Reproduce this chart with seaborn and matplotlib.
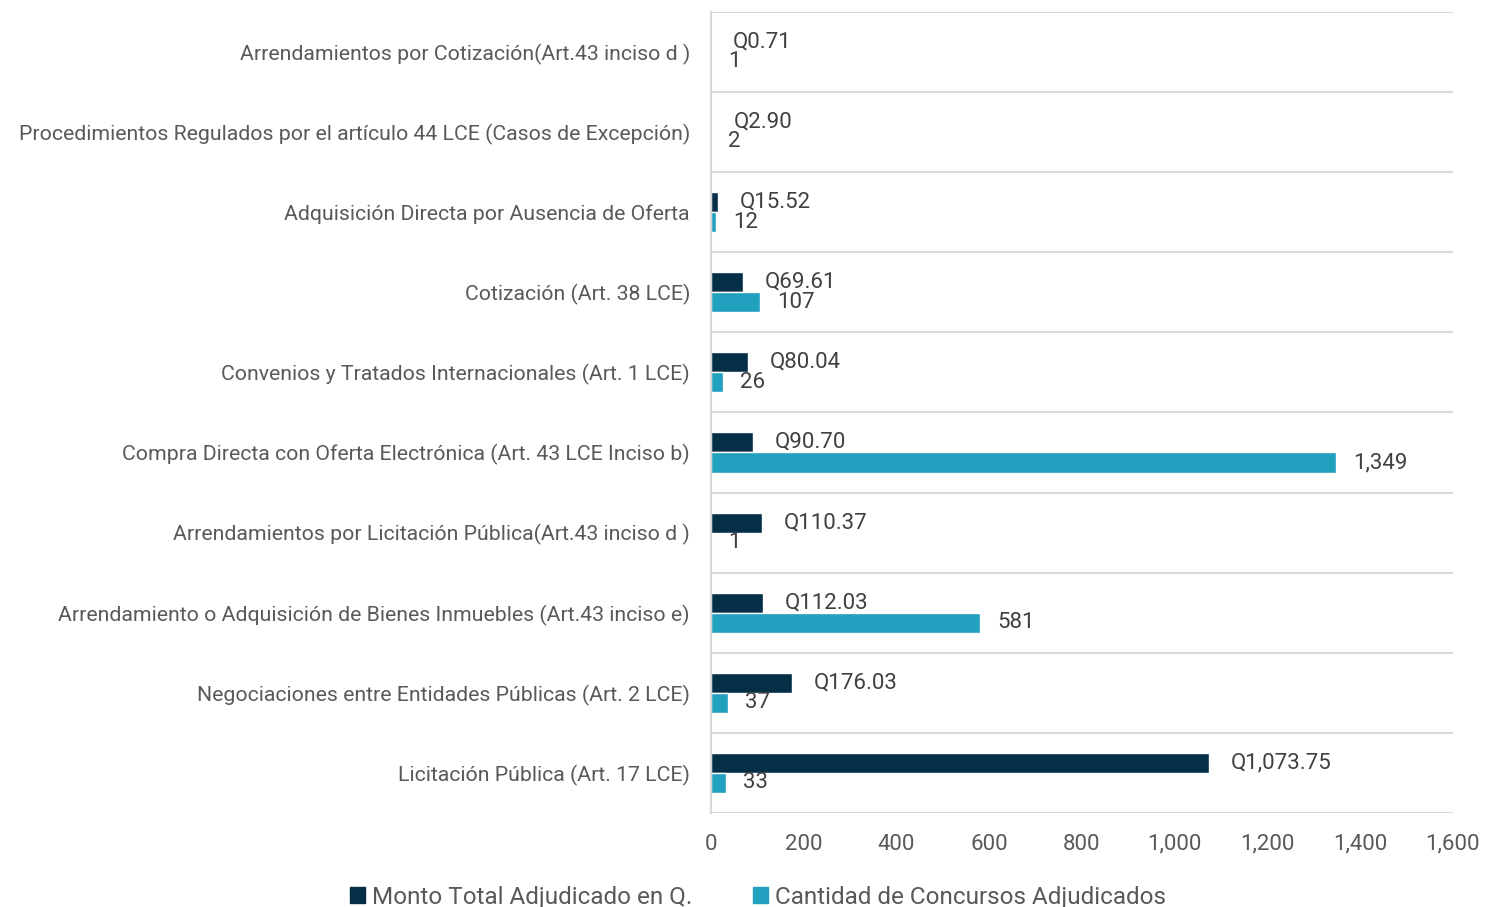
import numpy as np
import pandas as pd
import matplotlib.pyplot as plt
import seaborn as sns
from matplotlib.ticker import FixedLocator, FuncFormatter

categorias = [
    "Arrendamientos por Cotización(Art.43 inciso d )",
    "Procedimientos Regulados por el artículo 44 LCE (Casos de Excepción)",
    "Adquisición Directa por Ausencia de Oferta",
    "Cotización (Art. 38 LCE)",
    "Convenios y Tratados Internacionales (Art. 1 LCE)",
    "Compra Directa con Oferta Electrónica (Art. 43 LCE Inciso b)",
    "Arrendamientos por Licitación Pública(Art.43 inciso d )",
    "Arrendamiento o Adquisición de Bienes Inmuebles (Art.43 inciso e)",
    "Negociaciones entre Entidades Públicas (Art. 2 LCE)",
    "Licitación Pública (Art. 17 LCE)",
]
monto = [0.71, 2.90, 15.52, 69.61, 80.04, 90.70, 110.37, 112.03, 176.03, 1073.75]
cantidad = [1, 2, 12, 107, 26, 1349, 1, 581, 37, 33]
series = ["Monto Total Adjudicado en Q.", "Cantidad de Concursos Adjudicados"]
colores = ["#052f47", "#21a0bf"]

df = pd.DataFrame({
    "categoria": categorias * 2,
    "valor": monto + cantidad,
    "serie": [series[0]] * len(categorias) + [series[1]] * len(categorias),
})

sns.set_style("white")
plt.rcParams["font.family"] = ["Roboto", "DejaVu Sans"]

fig = plt.figure(figsize=(14.87, 9.07), dpi=100)
ax = fig.add_axes([0.478, 0.1036, 0.499, 0.8834])

sns.barplot(data=df, y="categoria", x="valor", hue="serie", order=categorias,
            hue_order=series, palette=colores, orient="h", width=0.5,
            gap=0, saturation=1, errorbar=None, ax=ax, legend=False)

ax.set_xlim(0, 1600)
ax.set_xticks(range(0, 1601, 200))
ax.xaxis.set_major_formatter(FuncFormatter(lambda v, p: f"{int(v):,}"))
ax.set_xlabel("")
ax.set_ylabel("")
ax.tick_params(axis="both", length=0, labelcolor="#595959")
ax.tick_params(axis="x", pad=15, labelsize=16)
ax.tick_params(axis="y", pad=15, labelsize=15.3)
for t in ax.get_yticklabels():
    t.set_va("center_baseline")

ax.yaxis.set_minor_locator(FixedLocator(np.arange(-0.5, len(categorias), 1)))
ax.grid(which="minor", axis="y", color="#d9d9d9", linewidth=1.5)
ax.grid(which="major", visible=False)
for s in ["top", "right", "bottom"]:
    ax.spines[s].set_visible(False)
ax.spines["left"].set_color("#d9d9d9")
ax.spines["left"].set_linewidth(1.5)

ax.bar_label(ax.containers[0], labels=[f"Q{v:,.2f}" for v in monto],
             padding=15.5, fontsize=16, color="#404040")
ax.bar_label(ax.containers[1], labels=[f"{v:,}" for v in cantidad],
             padding=12, fontsize=16, color="#404040")

handles = [plt.Rectangle((0, 0), 1, 1, color=c) for c in colores]
fig.legend(handles, series, loc="center", bbox_to_anchor=(0.51, 0.011),
           ncol=2, frameon=False, fontsize=17.5, handlelength=0.6,
           handleheight=0.6, handletextpad=0.3, columnspacing=2.5,
           labelcolor="#595959")

fig.savefig("out.png", dpi=100)
